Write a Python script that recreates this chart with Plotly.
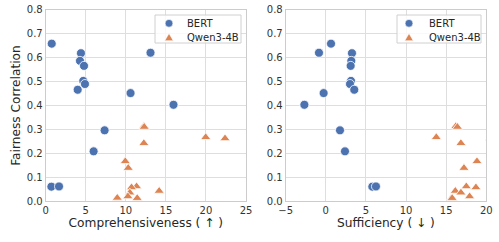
import plotly.graph_objects as go

# BERT data (shared fairness correlation)
bert_fair = [0.659, 0.621, 0.619, 0.587, 0.566, 0.503, 0.490, 0.466, 0.452, 0.403, 0.296, 0.208, 0.060, 0.061]
bert_comp = [0.75, 13.08, 4.40, 4.28, 4.78, 4.69, 4.90, 3.99, 10.59, 15.95, 7.35, 5.98, 0.71, 1.66]
bert_suff = [0.65, -0.85, 3.26, 3.18, 3.10, 3.14, 3.02, 3.55, -0.27, -2.67, 1.77, 2.39, 5.80, 6.25]

# Qwen3-4B data
qwen_fair = [0.313, 0.310, 0.267, 0.262, 0.242, 0.166, 0.138, 0.061, 0.057, 0.042, 0.035, 0.019, 0.013, 0.012]
qwen_comp = [12.25, 12.30, 19.97, 22.38, 12.25, 9.93, 10.30, 11.34, 10.71, 14.16, 10.50, 10.26, 8.93, 11.42]
qwen_suff = [16.20, 16.40, 13.77, 20.50, 16.84, 18.84, 17.22, 17.51, 18.71, 16.14, 16.84, 17.92, 15.68, 15.75]

series_names = ["BERT", "Qwen3-4B"]
blue = "#4c72b0"
orange = "#dd8452"
FONT = "DejaVu Sans"
W, H = 499, 242

fig = go.Figure()

def add(x, y, name, color, symbol, xa, ya):
    fig.add_trace(go.Scatter(
        x=x, y=y, mode="markers", name=name, showlegend=False,
        marker=dict(color=color, symbol=symbol, size=9,
                    line=dict(color="white", width=0.8)),
        xaxis=xa, yaxis=ya, cliponaxis=True))

add(bert_comp, bert_fair, series_names[0], blue, "circle", "x", "y")
add(qwen_comp, qwen_fair, series_names[1], orange, "triangle-up", "x", "y")
add(bert_suff, bert_fair, series_names[0], blue, "circle", "x2", "y2")
add(qwen_suff, qwen_fair, series_names[1], orange, "triangle-up", "x2", "y2")

grid = "#dedede"
spine = "#cccccc"
tickfont = dict(family=FONT, size=10, color="#333333")
titlefont = dict(family=FONT, size=12.2, color="#262626")

common_x = dict(showgrid=True, gridcolor=grid, gridwidth=1, zeroline=False,
                showline=True, linecolor=spine, linewidth=1, mirror=True,
                ticks="", tickfont=tickfont, title_font=titlefont, title_standoff=3,
                automargin=False)
common_y = dict(showgrid=True, gridcolor=grid, gridwidth=1, zeroline=False,
                showline=True, linecolor=spine, linewidth=1, mirror=True,
                ticks="", tickfont=tickfont, range=[0, 0.8], dtick=0.1,
                tickformat=".1f", title_font=titlefont, automargin=False)

# --- legend boxes drawn as shapes + text (matplotlib-like compact legend) ---
def px(x):
    return x / W

def py(y):
    return 1 - y / H

shapes = []
annotations = []
legend_boxes = [
    # (box left, box right, marker x, text x)
    (155, 241, 169, 185),
    (397, 481, 409, 427),
]
box_top, box_bot = 15, 43
row_y = [23.3, 37.5]
for (bl, br, mx, tx) in legend_boxes:
    shapes.append(dict(type="rect", xref="paper", yref="paper",
                       x0=px(bl), x1=px(br), y0=py(box_bot), y1=py(box_top),
                       line=dict(color="#d0d0d0", width=1),
                       fillcolor="rgba(255,255,255,0.8)", layer="above"))
    r = 3.9
    cy = row_y[0]
    shapes.append(dict(type="circle", xref="paper", yref="paper",
                       x0=px(mx - r), x1=px(mx + r), y0=py(cy + r), y1=py(cy - r),
                       fillcolor=blue, line=dict(color="white", width=0.6), layer="above"))
    cy = row_y[1]
    s = 4.3
    path = "M {:.5f},{:.5f} L {:.5f},{:.5f} L {:.5f},{:.5f} Z".format(
        px(mx - s), py(cy + s * 0.75), px(mx + s), py(cy + s * 0.75), px(mx), py(cy - s * 0.95))
    shapes.append(dict(type="path", xref="paper", yref="paper", path=path,
                       fillcolor=orange, line=dict(color="white", width=0.6), layer="above"))
    for name, ry in zip(series_names, row_y):
        annotations.append(dict(text=name, xref="paper", yref="paper",
                                x=px(tx), y=py(ry), xanchor="left", yanchor="middle",
                                showarrow=False,
                                font=dict(family=FONT, size=10, color="#262626")))

fig.update_layout(
    width=W, height=H,
    margin=dict(l=0, r=0, t=0, b=0),
    paper_bgcolor="white", plot_bgcolor="white",
    font=dict(family=FONT),
    showlegend=False,
    xaxis=dict(domain=[0.0916, 0.493], range=[0, 25], dtick=5,
               title_text="Comprehensiveness ( ↑ )", anchor="y", **common_x),
    yaxis=dict(domain=[0.1694, 0.9587], anchor="x",
               title_text="Fairness Correlation", title_standoff=3, **common_y),
    xaxis2=dict(domain=[0.5725, 0.9745], range=[-5, 20], dtick=5,
                title_text="Sufficiency ( ↓ )", anchor="y2", **common_x),
    yaxis2=dict(domain=[0.1694, 0.9587], anchor="x2", **common_y),
    shapes=shapes,
    annotations=annotations,
)

fig.write_html("out.html", config={"displayModeBar": False},
               post_script="document.body.style.margin='0px';document.body.style.padding='0px';")
